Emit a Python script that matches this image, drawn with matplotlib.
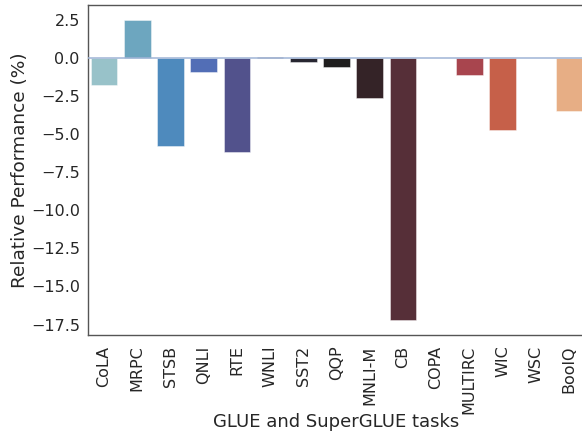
import matplotlib
matplotlib.use("Agg")
import matplotlib.pyplot as plt
import seaborn as sns

tasks = ['CoLA', 'MRPC', 'STSB', 'QNLI', 'RTE', 'WNLI', 'SST2', 'QQP',
         'MNLI-M', 'CB', 'COPA', 'MULTIRC', 'WIC', 'WSC', 'BoolQ']
rel_perf = [-1.8, 2.5, -5.8, -0.9, -6.2, 0.1, -0.25, -0.6,
            -2.6, -17.2, 0.0, -1.1, -4.7, 0.0, -3.5]

sns.set_style("white")

fig = plt.figure(figsize=(5.82, 4.32), dpi=100)
ax = fig.add_axes([87.5 / 582, 97 / 432, 498 / 582, 330 / 432])

sns.barplot(x=tasks, y=rel_perf, hue=tasks, palette="icefire", legend=False,
            saturation=0.75, edgecolor=(1, 1, 1, 0.5), linewidth=0.6, ax=ax)
# zero line drawn over the bars, as in the original
ax.axhline(0, color='#9fb4d6', lw=1.1, zorder=3)

ax.set_xlabel("GLUE and SuperGLUE tasks", fontsize=13, labelpad=-0.8)
ax.set_ylabel("Relative Performance (%)", fontsize=13.3, labelpad=1.5)
ax.tick_params(axis='x', labelsize=11.5, rotation=90, pad=4)
ax.tick_params(axis='y', labelsize=11.5, pad=2)
for s in ax.spines.values():
    s.set_color('#555555')
    s.set_linewidth(1.0)

fig.savefig("out.png", dpi=100)
